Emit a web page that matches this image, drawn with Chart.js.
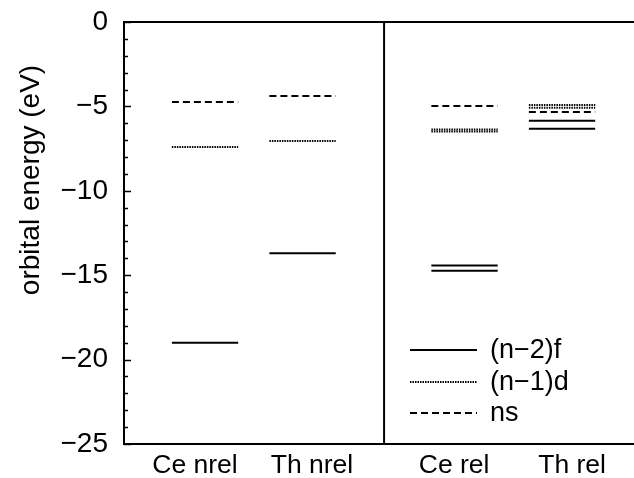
<!DOCTYPE html>
<html>
<head>
<meta charset="utf-8">
<script src="https://cdn.jsdelivr.net/npm/chart.js@4/dist/chart.umd.min.js"></script>
<style>
html,body{margin:0;padding:0;background:#fff;}
#wrap{width:634px;height:478px;}
</style>
</head>
<body>
<div id="wrap"><canvas id="c" width="634" height="478"></canvas></div>
<script>
// ---- data ----
const categories = ['Ce nrel', 'Th nrel', 'Ce rel', 'Th rel'];
const categoryCenters = [0.831, 1.831, 3.492, 4.492];   // x positions (axis units)
const labelPositions = [0.728, 1.928, 3.385, 4.595];    // tick label positions
const dividerX = 2.667;
const levelHalfWidth = 0.34;
const yTickLabels = ['0', '\u22125', '\u221210', '\u221215', '\u221220', '\u221225'];
const yTickValues = [0, -5, -10, -15, -20, -25];
const yTitle = 'orbital energy (eV)';
const seriesNames = ['(n\u22122)f', '(n\u22121)d', 'ns'];
// energies in eV per category
const fLevels = [[-19.0], [-13.7], [-14.43, -14.73], [-5.85, -6.32]];
const dLevels = [[-7.4], [-7.05], [-6.37, -6.49], [-4.92, -5.08]];
const sLevels = [[-4.74], [-4.38], [-4.98], [-5.33]];

const seriesLevels = [fLevels, dLevels, sLevels];
const seriesDash = [[], [1.5, 1], [7, 4]];
const seriesWidth = [2, 2, 2];

const datasets = [];
seriesLevels.forEach((lv, si) => {
  lv.forEach((arr, ci) => {
    arr.forEach(E => {
      datasets.push({
        label: seriesNames[si],
        data: [{x: categoryCenters[ci] - levelHalfWidth, y: E}, {x: categoryCenters[ci] + levelHalfWidth, y: E}],
        borderColor: '#000',
        borderWidth: seriesWidth[si],
        borderDash: seriesDash[si],
        pointRadius: 0,
        fill: false,
        tension: 0
      });
    });
  });
});

const FONT = 'Liberation Sans, Arial, Helvetica, sans-serif';

const framePlugin = {
  id: 'frame',
  afterDraw(chart) {
    const ctx = chart.ctx;
    const a = chart.chartArea;
    const xs = chart.scales.x, ys = chart.scales.y;
    ctx.save();
    ctx.strokeStyle = '#000';
    ctx.lineWidth = 2;
    ctx.setLineDash([]);
    // top line
    ctx.beginPath();
    ctx.moveTo(a.left - 1, ys.getPixelForValue(0));
    ctx.lineTo(a.right, ys.getPixelForValue(0));
    ctx.stroke();
    // divider
    const dx = xs.getPixelForValue(dividerX);
    ctx.beginPath();
    ctx.moveTo(dx, a.top);
    ctx.lineTo(dx, a.bottom);
    ctx.stroke();
    // inward y ticks
    ctx.lineWidth = 1.5;
    for (let v = -25; v <= 0; v++) {
      const py = Math.round(ys.getPixelForValue(v)) + 0.5;
      const len = (v % 5 === 0) ? 7 : 4;
      ctx.beginPath();
      ctx.moveTo(a.left, py);
      ctx.lineTo(a.left + len, py);
      ctx.stroke();
    }
    // y title
    ctx.save();
    ctx.translate(31, 180);
    ctx.rotate(-Math.PI / 2);
    ctx.font = '28px ' + FONT;
    ctx.fillStyle = '#000';
    ctx.textAlign = 'center';
    ctx.textBaseline = 'middle';
    ctx.fillText(yTitle, 0, 0);
    ctx.restore();
    // legend
    const lx0 = a.left + 286, lx1 = a.left + 353;
    const lys = [350, 382, 413];
    ctx.font = '27px ' + FONT;
    ctx.fillStyle = '#000';
    ctx.textBaseline = 'middle';
    ctx.textAlign = 'left';
    seriesNames.forEach((name, i) => {
      ctx.lineWidth = seriesWidth[i];
      ctx.setLineDash(seriesDash[i]);
      ctx.beginPath();
      ctx.moveTo(lx0, lys[i]);
      ctx.lineTo(lx1, lys[i]);
      ctx.stroke();
      ctx.setLineDash([]);
      ctx.fillText(name, a.left + 366, lys[i] + 1);
    });
    ctx.restore();
  }
};

new Chart(document.getElementById('c'), {
  type: 'line',
  data: { datasets },
  options: {
    responsive: false,
    animation: false,
    devicePixelRatio: 1,
    layout: { padding: { left: 0, right: 0, top: 22, bottom: 0 } },
    plugins: { legend: { display: false }, tooltip: { enabled: false } },
    scales: {
      x: {
        type: 'linear',
        min: 0,
        max: 5.23,
        grid: { display: false, drawTicks: false },
        border: { display: true, color: '#000', width: 2 },
        afterBuildTicks: (s) => { s.ticks = labelPositions.map(v => ({ value: v })); },
        afterFit: (s) => { s.height = 34; s.paddingLeft = 0; s.paddingRight = 0; },
        ticks: {
          autoSkip: false,
          maxRotation: 0,
          padding: 6,
          color: '#000',
          font: { family: FONT, size: 26.5 },
          callback: (v, i) => categories[i]
        }
      },
      y: {
        type: 'linear',
        min: -25,
        max: 0,
        grid: { display: false, drawTicks: false },
        border: { display: true, color: '#000', width: 2 },
        afterBuildTicks: (s) => { s.ticks = yTickValues.map(v => ({ value: v })); },
        afterFit: (s) => { s.width = 124; s.paddingTop = 0; s.paddingBottom = 0; },
        ticks: {
          autoSkip: false,
          padding: 16,
          color: '#000',
          font: { family: FONT, size: 28 },
          callback: (v, i) => yTickLabels[i]
        },
        title: { display: false }
      }
    }
  },
  plugins: [framePlugin]
});
</script>
</body>
</html>
